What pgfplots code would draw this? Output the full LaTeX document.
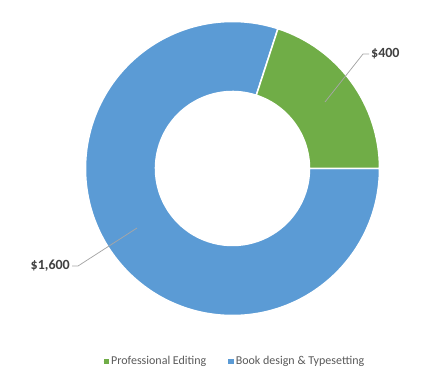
\documentclass[border=0pt]{standalone}
\usepackage{pgfplots}
\pgfplotsset{compat=1.18}
\usepackage{pgfplotstable}
\usepackage{fontspec}
\setmainfont{Carlito}
\definecolor{cgreen}{HTML}{70AD47}
\definecolor{cblue}{HTML}{5B9BD5}
\definecolor{lbl}{HTML}{404040}
\definecolor{leg}{HTML}{595959}
\definecolor{ldr}{HTML}{A6A6A6}
\pgfplotstableread{
cat value
1 400
2 1600
}\data
\begin{document}
\begin{tikzpicture}
\pgfplotstablegetelem{0}{value}\of\data \let\va\pgfplotsretval
\pgfplotstablegetelem{1}{value}\of\data \let\vb\pgfplotsretval
\pgfmathsetmacro\tot{\va+\vb}
\pgfmathsetmacro\aA{72}
\pgfmathsetmacro\aB{\aA-\va/\tot*360}
\pgfmathsetmacro\aC{\aB-\vb/\tot*360}
\def\cx{232.5}\def\cy{204.5}\def\Ro{147}\def\Ri{77}
\pgfmathsetmacro\xAo{\cx+\Ro*cos(\aA)}\pgfmathsetmacro\yAo{\cy+\Ro*sin(\aA)}
\pgfmathsetmacro\xBo{\cx+\Ro*cos(\aB)}\pgfmathsetmacro\yBo{\cy+\Ro*sin(\aB)}
\pgfmathsetmacro\xBi{\cx+\Ri*cos(\aB)}\pgfmathsetmacro\yBi{\cy+\Ri*sin(\aB)}
\pgfmathsetmacro\xCi{\cx+\Ri*cos(\aC)}\pgfmathsetmacro\yCi{\cy+\Ri*sin(\aC)}
\begin{axis}[scale only axis, width=447pt, height=373pt,
  xmin=0, xmax=447, ymin=0, ymax=373, hide axis, clip=false,
  legend style={at={(axis cs:235,12)}, anchor=center, draw=none, fill=none,
    legend columns=2, font=\fontsize{12}{14}\selectfont, text=leg,
    /tikz/every even column/.append style={column sep=20pt}},
  legend image code/.code={\path (0pt,0pt) rectangle (5pt,0pt);
    \fill[#1] (0pt,-2.25pt) rectangle (4.5pt,2.25pt);},
  legend cell align=left]
\addlegendimage{color=cgreen}
\addlegendentry{Professional Editing}
\addlegendimage{color=cblue}
\addlegendentry{Book design \& Typesetting}
\path (axis cs:0,0) rectangle (axis cs:447,373);
\filldraw[fill=cblue, draw=white, line width=1.5pt]
  (axis cs:\xBo,\yBo) arc[start angle=\aB, end angle=\aC, radius=\Ro pt]
  -- (axis cs:\xCi,\yCi) arc[start angle=\aC, end angle=\aB, radius=\Ri pt] -- cycle;
\filldraw[fill=cgreen, draw=white, line width=1.5pt]
  (axis cs:\xAo,\yAo) arc[start angle=\aA, end angle=\aB, radius=\Ro pt]
  -- (axis cs:\xBi,\yBi) arc[start angle=\aB, end angle=\aA, radius=\Ri pt] -- cycle;
\draw[ldr, line width=0.75pt] (axis cs:325,271) -- (axis cs:363,319) -- (axis cs:369,319);
\node[anchor=west, inner sep=1pt, text=lbl, font=\bfseries\fontsize{14}{16}\selectfont] at (axis cs:370,319) {\$400};
\draw[ldr, line width=0.75pt] (axis cs:137,145) -- (axis cs:78,107) -- (axis cs:72,107);
\node[anchor=east, inner sep=1pt, text=lbl, font=\bfseries\fontsize{14}{16}\selectfont] at (axis cs:71,107) {\$1,600};
\end{axis}
\end{tikzpicture}
\end{document}
